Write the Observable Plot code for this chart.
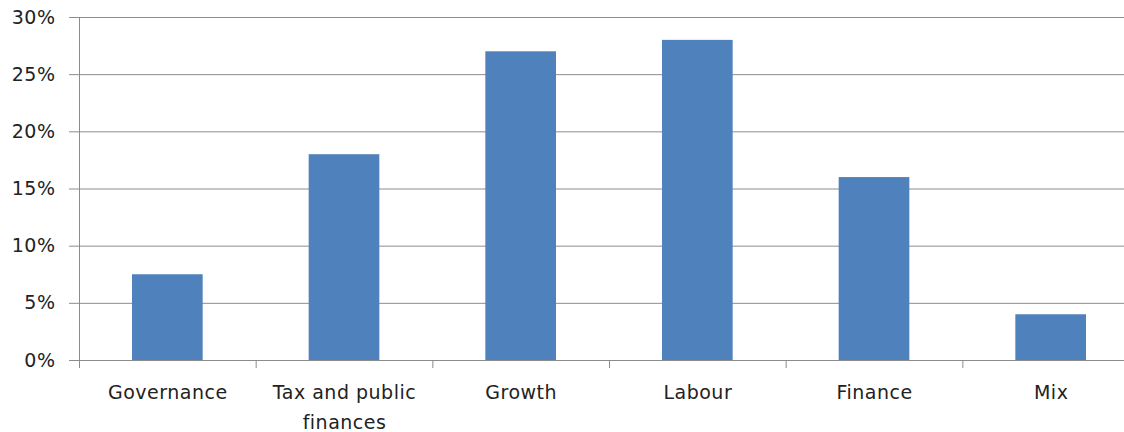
<!DOCTYPE html>
<html>
<head>
<meta charset="utf-8">
<script src="https://cdn.jsdelivr.net/npm/d3@7"></script>
<script src="https://cdn.jsdelivr.net/npm/@observablehq/plot@0.6"></script>
<style>
  html, body { margin: 0; padding: 0; background: white; }
  #chart svg { overflow: hidden; }
</style>
</head>
<body>
<div id="chart"></div>
<script>
const categories = ["Governance", "Tax and public finances", "Growth", "Labour", "Finance", "Mix"];
const tickLabels = ["Governance", "Tax and public\nfinances", "Growth", "Labour", "Finance", "Mix"];
const values = [0.075, 0.18, 0.27, 0.28, 0.16, 0.04];
const yTicks = [0, 0.05, 0.10, 0.15, 0.20, 0.25, 0.30];
const yTickLabels = ["0%", "5%", "10%", "15%", "20%", "25%", "30%"];

const gray = "#8c8c8c";
const boundaries = d3.range(categories.length + 1);

const chart = Plot.plot({
  width: 1124,
  height: 432,
  marginLeft: 79,
  marginRight: 0,
  marginTop: 17,
  marginBottom: 72,
  x: {type: "linear", domain: [0, categories.length], range: [79, 1139]},
  y: {domain: [0, 0.30]},
  style: {fontFamily: "'DejaVu Sans', sans-serif", fontSize: "19px", color: "#222", background: "white", letterSpacing: "0.5px"},
  marks: [
    Plot.gridY(yTicks, {stroke: gray, strokeOpacity: 1}),
    Plot.axisY(yTicks, {tickFormat: (d, i) => yTickLabels[i], tickSize: 10, tickPadding: 14, stroke: gray, label: null, fontSize: 19}),
    Plot.rectY(categories, {
      x1: (d, i) => i,
      x2: (d, i) => i + 1,
      y1: () => 0,
      y2: (d, i) => values[i],
      insetLeft: 53,
      insetRight: 53,
      fill: "#4F81BD"
    }),
    Plot.ruleY([0], {stroke: gray}),
    Plot.ruleX([0], {stroke: gray}),
    Plot.axisX(boundaries, {tickSize: 8, tickFormat: () => "", stroke: gray, label: null}),
    Plot.text(tickLabels, {
      x: (d, i) => i + 0.5,
      y: () => 0,
      text: d => d,
      dy: 18,
      lineAnchor: "top",
      lineHeight: 1.55,
      fontSize: 19,
      fill: "#222"
    })
  ]
});
document.getElementById("chart").appendChild(chart);
</script>
</body>
</html>
